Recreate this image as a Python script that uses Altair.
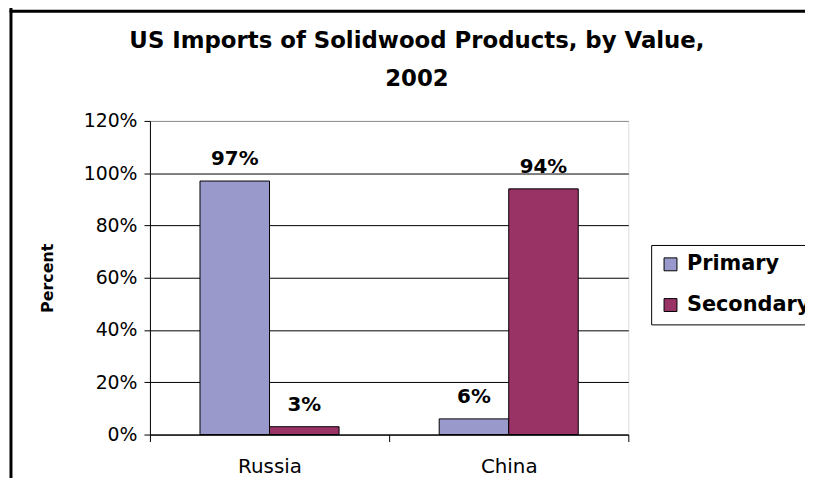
import altair as alt
import pandas as pd

countries = ["Russia", "China"]
series = ["Primary", "Secondary"]
primary = [0.97, 0.06]
secondary = [0.03, 0.94]
y_ticks = [0, 0.2, 0.4, 0.6, 0.8, 1.0, 1.2]
title_lines = ["US Imports of Solidwood Products, by Value,", "2002"]
colors = ["#9999CC", "#993366"]

rows = []
for i, c in enumerate(countries):
    rows.append({"Country": c, "Type": series[0], "Value": primary[i]})
    rows.append({"Country": c, "Type": series[1], "Value": secondary[i]})
df = pd.DataFrame(rows)

FONT = "DejaVu Sans"

x = alt.X(
    "Country:N",
    sort=countries,
    scale=alt.Scale(paddingInner=0, paddingOuter=0),
    axis=alt.Axis(
        title=None, labelAngle=0, labelFontSize=20, labelFont=FONT, labelColor="black",
        labelPadding=15, tickSize=7, tickColor="black", tickBand="extent",
        domainColor="black", domainWidth=1, grid=False,
    ),
)
xo = alt.XOffset("Type:N", sort=series, scale=alt.Scale(paddingInner=0, paddingOuter=0.72))
y = alt.Y(
    "Value:Q",
    scale=alt.Scale(domain=[0, 1.2], nice=False),
    axis=alt.Axis(
        values=y_ticks, format=".0%", title="Percent",
        labelFontSize=19, labelFont=FONT, labelColor="black", labelPadding=7,
        tickSize=6, tickColor="black", domainColor="black", domainWidth=1,
        gridColor={"condition": {"test": "datum.value >= 1.19", "value": "#8c8c8c"}, "value": "#000000"},
        gridWidth=1,
        titleFont=FONT, titleFontSize=16, titleFontWeight="bold", titleColor="black",
        titleX=-103, titleY=158, titleAngle=270, titleAlign="center", titleBaseline="middle",
    ),
)

color = alt.Color(
    "Type:N",
    scale=alt.Scale(domain=series, range=colors),
    legend=alt.Legend(
        title=None, orient="none", legendX=505, legendY=125,
        fillColor="white", strokeColor="black", padding=9,
        symbolType="square", symbolSize=169, symbolStrokeColor="black", symbolStrokeWidth=1,
        symbolOpacity=1,
        labelFont=FONT, labelFontSize=21, labelFontWeight="bold", labelColor="black",
        labelOffset=6, rowPadding=19, labelLimit=300,
    ),
)

bars = alt.Chart(df).mark_bar(stroke="black", strokeWidth=1).encode(
    x=x, xOffset=xo, y=y, color=color
)

labels = alt.Chart(df).mark_text(
    dy=-16, baseline="alphabetic", fontSize=20, fontWeight="bold", font=FONT, color="black"
).encode(x=x, xOffset=xo, y=y, text=alt.Text("Value:Q", format=".0%"))

frame_df = pd.DataFrame({"k": [0]})
border_left = alt.Chart(frame_df).mark_rule(color="black", strokeWidth=3).encode(
    x=alt.value(-140), y=alt.value(-116), y2=alt.value(400)
)
border_top = alt.Chart(frame_df).mark_rule(color="black", strokeWidth=3).encode(
    x=alt.value(-141.5), x2=alt.value(700), y=alt.value(-110.5)
)
title = alt.Chart(frame_df).mark_text(
    font=FONT, fontSize=23, fontWeight="bold", color="black",
    align="center", baseline="alphabetic", lineBreak="\n", lineHeight=38,
).encode(
    x=alt.value(269), y=alt.value(-73), text=alt.value("\n".join(title_lines))
)

chart = alt.layer(border_left, border_top, title, bars, labels).properties(
    width=482,
    height=316,
    padding={"left": 143, "top": 112, "right": 178, "bottom": 42},
    autosize=alt.AutoSizeParams(type="none"),
).configure_view(
    stroke="#8c8c8c", strokeWidth=1.5
).configure(background="white")

chart.save("out.html", embed_options={"renderer": "svg", "actions": False})
